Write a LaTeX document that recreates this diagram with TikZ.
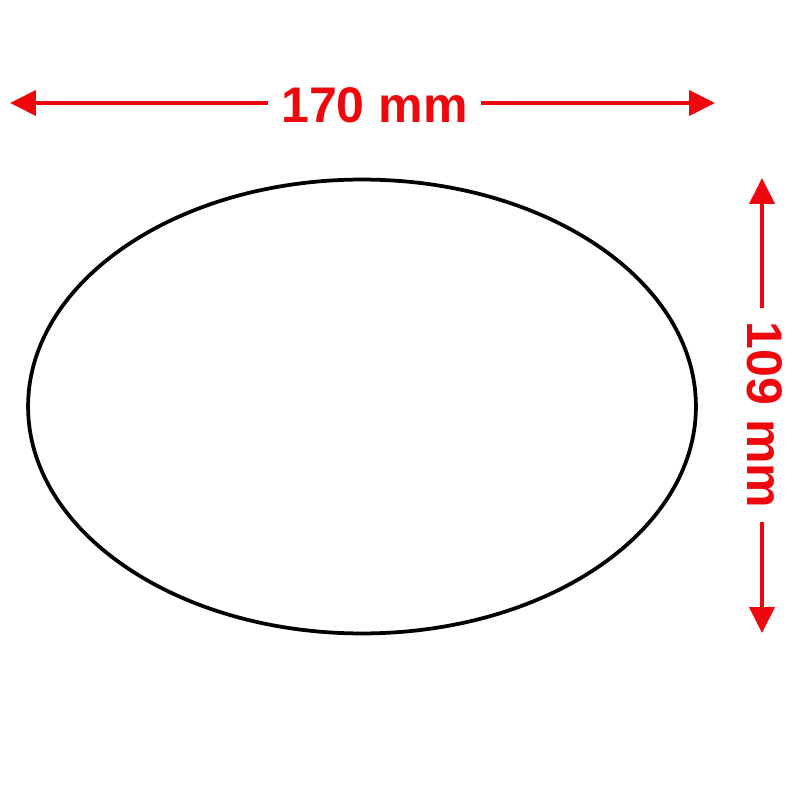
\documentclass[tikz,border=0pt]{standalone}
\usepackage{fontspec}
\setmainfont{Liberation Sans}
\usetikzlibrary{arrows.meta}
\definecolor{dimred}{RGB}{238,8,14}

\begin{document}
\begin{tikzpicture}[x=0.02cm,y=-0.02cm,
  dimline/.style={dimred,line width=0.08cm,-{Triangle[length=0.52cm,width=0.5cm]}},
  dimlabel/.style={text=dimred,font=\bfseries\fontsize{28.5}{28.5}\selectfont,inner sep=0.27cm,outer sep=0pt}]
\useasboundingbox (0,0) rectangle (800,800);
% the oval itself
\draw [black,line width=0.075cm] (362,406.5) ellipse [x radius=6.68cm,y radius=4.54cm];
% width
\coordinate (wL) at (10,103);
\coordinate (wR) at (715,103);
\node [dimlabel] (wlab) at (374.5,105) {170 mm};
\draw [dimline] (wlab.west |- wL) -- (wL);
\draw [dimline] (wlab.east |- wR) -- (wR);
% height
\coordinate (hT) at (762,178);
\coordinate (hB) at (762,633);
\node [dimlabel,rotate=-90] (hlab) at (764.5,415) {109 mm};
\draw [dimline] (hlab.west -| hT) -- (hT);
\draw [dimline] (hlab.east -| hB) -- (hB);
\end{tikzpicture}
\end{document}
